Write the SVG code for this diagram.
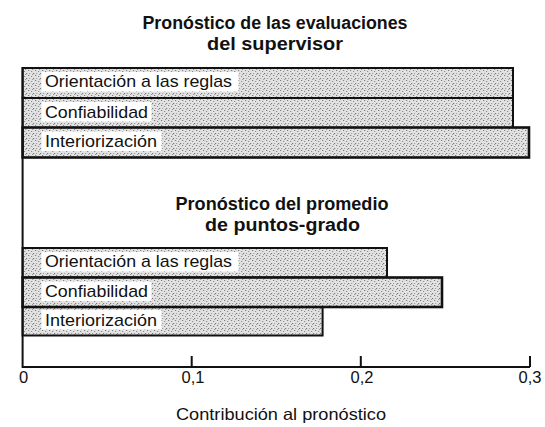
<svg xmlns="http://www.w3.org/2000/svg" width="545" height="427" viewBox="0 0 545 427">
<defs>
<pattern id="stipple" width="7" height="5" patternUnits="userSpaceOnUse">
<rect width="7" height="5" fill="#e2e2e2"/>
<rect x="0" y="0" width="1.2" height="1" fill="#7a7a7a"/>
<rect x="3" y="1" width="1.2" height="1" fill="#8c8c8c"/>
<rect x="5" y="3" width="1.2" height="1" fill="#7a7a7a"/>
<rect x="1" y="3" width="1.2" height="1" fill="#a0a0a0"/>
<rect x="4" y="4" width="1.2" height="1" fill="#999"/>
</pattern>
<style>
.bar{fill:url(#stipple);stroke:#111;stroke-width:2}
.bar.thick{stroke-width:2.6}
.lblbg{fill:#fff}
.lbl{font-family:"Liberation Sans",Arial,sans-serif;font-size:17px;fill:#111}
.title{font-family:"Liberation Sans",Arial,sans-serif;font-size:18px;font-weight:bold;fill:#111;text-anchor:middle}
.tick{font-family:"Liberation Sans",Arial,sans-serif;font-size:16.5px;fill:#111;text-anchor:middle}
.axis{stroke:#111;stroke-width:2;fill:none}
</style>
</defs>
<rect width="545" height="427" fill="#fff"/>

<g id="title-supervisor">
<text class="title" x="275" y="28.5" textLength="265" lengthAdjust="spacingAndGlyphs">Pronóstico de las evaluaciones</text>
<text class="title" x="275" y="50" textLength="136" lengthAdjust="spacingAndGlyphs">del supervisor</text>
</g>

<g id="group-supervisor">
<g id="sup-orientacion">
<rect class="bar" x="22.6" y="68" width="490.4" height="30"/>
<rect class="lblbg" x="41.5" y="72" width="197" height="19.5"/>
<text class="lbl" x="45" y="87" textLength="187" lengthAdjust="spacingAndGlyphs">Orientación a las reglas</text>
</g>
<g id="sup-confiabilidad">
<rect class="bar" x="22.6" y="98" width="490.4" height="30"/>
<rect class="lblbg" x="41.5" y="102" width="110" height="19.5"/>
<text class="lbl" x="45" y="117.5" textLength="103" lengthAdjust="spacingAndGlyphs">Confiabilidad</text>
</g>
<g id="sup-interiorizacion">
<rect class="bar thick" x="22.6" y="127.5" width="506.4" height="30"/>
<rect class="lblbg" x="41.5" y="131.5" width="120" height="19.5"/>
<text class="lbl" x="45" y="147" textLength="112" lengthAdjust="spacingAndGlyphs">Interiorización</text>
</g>
</g>

<g id="title-promedio">
<text class="title" x="282" y="209.5" textLength="213" lengthAdjust="spacingAndGlyphs">Pronóstico del promedio</text>
<text class="title" x="282.5" y="231" textLength="155" lengthAdjust="spacingAndGlyphs">de puntos-grado</text>
</g>

<g id="group-promedio">
<g id="prom-orientacion">
<rect class="bar" x="22.6" y="248" width="364.4" height="29.5"/>
<rect class="lblbg" x="41.5" y="252" width="197" height="19.5"/>
<text class="lbl" x="45" y="267" textLength="187" lengthAdjust="spacingAndGlyphs">Orientación a las reglas</text>
</g>
<g id="prom-interiorizacion">
<rect class="bar" x="22.6" y="306.5" width="300" height="29"/>
<rect class="lblbg" x="41.5" y="310" width="120" height="19.5"/>
<text class="lbl" x="45" y="325.5" textLength="112" lengthAdjust="spacingAndGlyphs">Interiorización</text>
</g>
<g id="prom-confiabilidad">
<rect class="bar thick" x="22.6" y="277.5" width="419.4" height="29.5"/>
<rect class="lblbg" x="41.5" y="281.5" width="110" height="19.5"/>
<text class="lbl" x="45" y="296.5" textLength="103" lengthAdjust="spacingAndGlyphs">Confiabilidad</text>
</g>
</g>

<g id="axes">
<path class="axis" d="M22.6,67 V367 H530"/>
<path class="axis" d="M191.7,356 V367 M360.8,356 V367 M530,356 V367"/>
<text class="tick" x="23.5" y="382.5">0</text>
<text class="tick" x="193" y="382.5">0,1</text>
<text class="tick" x="362" y="382.5">0,2</text>
<text class="tick" x="530" y="382.5">0,3</text>
<text class="tick" x="281" y="420" font-size="17" textLength="210" lengthAdjust="spacingAndGlyphs">Contribución al pronóstico</text>
</g>
</svg>
